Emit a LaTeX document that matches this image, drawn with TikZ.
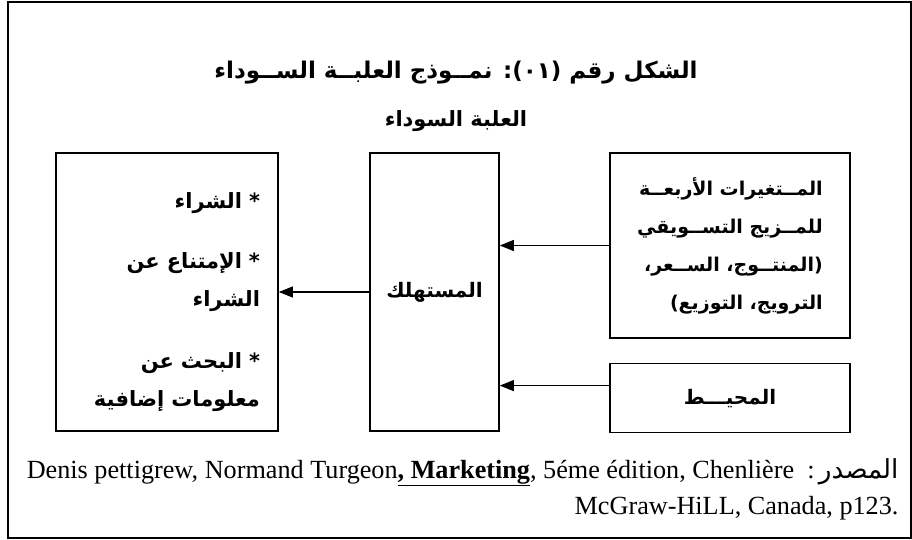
\documentclass[tikz,border=0pt]{standalone}
\usepackage{fontspec}
\setmainfont{Liberation Serif}
\newfontfamily\arabicfont[Script=Arabic]{DejaVu Sans}
\TeXXeTstate=1
\usetikzlibrary{arrows.meta, positioning}
\tikzstyle{block} = [rectangle, draw=black, line width=1.6pt, font=\arabicfont\bfseries\fontsize{21}{38}\selectfont]
\tikzstyle{arrow} = [line width=1.1pt,-{Triangle[length=14pt,width=11pt]}]

\begin{document}
\begin{tikzpicture}[x=1pt, y=-1pt, node distance=24pt]
    \useasboundingbox (0,0) rectangle (912,540);
    \draw[line width=1.6pt] (8,2) rectangle (911,538);

    \node (title) at (456,73) [font=\arabicfont\bfseries\fontsize{23}{28}\selectfont] {\beginR الشكل رقم \beginL(٠١)\endL: نمــوذج العلبــة الســوداء\endR};
    \node (subTitle) at (456,121) [font=\arabicfont\bfseries\fontsize{21}{24}\selectfont] {\beginR العلبة السوداء\endR};

    \node (response) at (167,292) [block, minimum width=222pt, minimum height=278pt, text width=186pt, inner xsep=16pt, align=right] {\rule{0pt}{36pt}\beginR * الشراء\endR\\[22pt]
        \beginR * الإمتناع عن\endR\\
        \beginR الشراء\endR\\[24pt]
        \beginR * البحث عن\endR\\
        \beginR معلومات إضافية\endR};
    \node (consumer) at (434.5,292) [block, minimum width=129pt, minimum height=278pt, font=\arabicfont\bfseries\fontsize{20}{24}\selectfont] {\beginR المستهلك\endR};
    \node (mixVars) at (730,245.5) [block, minimum width=240pt, minimum height=185pt, align=right, font=\arabicfont\bfseries\fontsize{19}{38}\selectfont] {\beginR المــتغيرات الأربعــة\endR\\
        \beginR للمــزيج التســويقي\endR\\
        \beginR (المنتــوج، الســعر،\endR\\
        \beginR الترويج، التوزيع)\endR};
    \node (environ) [block, below=24pt of mixVars, minimum width=240pt, minimum height=69pt, font=\arabicfont\bfseries\fontsize{20}{24}\selectfont] {\beginR المحيـــط\endR};

    \draw [arrow] (mixVars.west) -- (mixVars.west -| consumer.east);
    \draw [arrow] ([yshift=12.5pt]environ.west) -- ([yshift=12.5pt]environ.west -| consumer.east);
    \draw [arrow] (consumer.west) -- (response.east);

    \node (source) at (902,489) [anchor=east, align=right, font=\fontsize{26.2}{36}\selectfont] {Denis pettigrew, Normand Turgeon\textbf{\underline{, Marketing}}, 5éme édition, Chenlière\ \ :\,{\arabicfont\beginR المصدر\endR}\\
        McGraw-HiLL, Canada, p123.};
\end{tikzpicture}
\end{document}
